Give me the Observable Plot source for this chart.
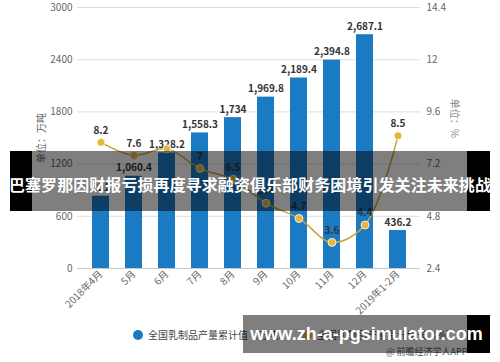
<!DOCTYPE html>
<html><head><meta charset="utf-8">
<script src="https://cdn.jsdelivr.net/npm/d3@7"></script>
<script src="https://cdn.jsdelivr.net/npm/@observablehq/plot@0.6"></script>
<style>
body{margin:0;background:#fff;font-family:"Noto Sans CJK SC","Noto Sans",sans-serif}
#wrap{position:relative;width:500px;height:362px;overflow:hidden;background:#fff}
#wrap svg{position:absolute;left:0;top:0}
.ov{position:absolute}
.band{background:rgba(0,0,0,0.5)}
.blk{background:#000}
.legend{position:absolute;top:327px;left:133px;font-size:10px;color:#444;display:flex;align-items:center;white-space:nowrap}
.legend .sw{display:inline-block;width:10px;height:10px;border-radius:50%;margin-right:5px}
.legend .item{display:flex;align-items:center;margin-right:14px}
</style></head><body><div id="wrap"></div>
<script>
const months = ["2018年4月","5月","6月","7月","8月","9月","10月","11月","12月","2019年1-2月"];
const output = [831, 1060.4, 1328.2, 1558.3, 1734, 1969.8, 2189.4, 2394.8, 2687.1, 436.2];
const growth = [8.2, 7.6, 7.9, 7, 6.5, 5.4, 4.7, 3.6, 4.4, 8.5];
const leftTicks = [0, 600, 1200, 1800, 2400, 3000];
const rightTicks = [2.4, 4.8, 7.2, 9.6, 12, 14.4];
const seriesNames = ["全国乳制品产量累计值（万吨）", "全国乳制品产量累计增长（%）"];
const leftTitle = "单位：万吨";
const rightTitle = "单位：%";
const bannerText = "巴塞罗那因财报亏损再度寻求融资俱乐部财务困境引发关注未来挑战";
const watermarkText = "www.zh-a-pgsimulator.com";
const sourceText = "@ 前瞻经济学人APP";

const leftMax = leftTicks[leftTicks.length - 1];
const rMin = rightTicks[0], rMax = rightTicks[rightTicks.length - 1];
const toLeft = v => (v - rMin) / (rMax - rMin) * leftMax;
const fromLeft = d => Math.round((rMin + d / leftMax * (rMax - rMin)) * 10) / 10;

const data = months.map((m, i) => ({month: m, output: output[i], growth: growth[i], g: toLeft(growth[i])}));
const fmtBar = d3.format(",.1~f");
const barColor = "#1b7ac4", lineColor = "#c9a33c", dotColor = "#e8b53f";

const chart = Plot.plot({
  width: 500, height: 362,
  marginTop: 7, marginBottom: 94, marginLeft: 77, marginRight: 80,
  style: {fontFamily: '"Noto Sans CJK SC","Noto Sans",sans-serif', fontSize: "10px", color: "#666", background: "transparent"},
  x: {type: "band", domain: months, paddingInner: 0.5, paddingOuter: 0.4, label: null},
  y: {domain: [0, leftMax], label: null},
  marks: [
    Plot.gridY(leftTicks, {stroke: "#dedede", strokeOpacity: 1}),
    Plot.ruleY([0], {stroke: "#c8c8c8"}),
    Plot.barY(data, {x: "month", y: "output", fill: barColor}),
    Plot.text(data, {x: "month", y: "output", text: d => fmtBar(d.output), dy: -8, fill: "#333", fontWeight: "bold", fontSize: 10}),
    Plot.line(data, {x: "month", y: "g", stroke: lineColor, strokeWidth: 1.5, curve: "catmull-rom"}),
    Plot.dot(data, {x: "month", y: "g", r: 4, fill: dotColor, stroke: "#fff", strokeWidth: 0.8}),
    Plot.text(data.filter(d => d.month !== "6月"), {x: "month", y: "g", text: d => String(d.growth), dy: -12, fill: "#333", fontWeight: "bold", fontSize: 10}),
    Plot.axisY(leftTicks, {anchor: "left", tickSize: 0, tickPadding: 5, fill: "#666", tickFormat: d => String(d), label: leftTitle, labelAnchor: "center", labelOffset: 40, labelArrow: "none"}),
    Plot.axisY(leftTicks, {anchor: "right", tickSize: 0, tickPadding: 6, fill: "#666", tickFormat: d => String(fromLeft(d)), label: null}),
    Plot.text([rightTitle], {frameAnchor: "right", dx: 34, rotate: 90, fill: "#888", fontSize: 10}),
    Plot.axisX({tickSize: 0, tickRotate: -45, textAnchor: "end", tickPadding: 4, fill: "#666", label: null})
  ]
});
const wrap = document.getElementById("wrap");
wrap.appendChild(chart);

// legend
const leg = document.createElement("div");
leg.className = "legend";
[barColor, dotColor].forEach((c, i) => {
  const it = document.createElement("span"); it.className = "item";
  const sw = document.createElement("span"); sw.className = "sw"; sw.style.background = c;
  it.appendChild(sw); it.appendChild(document.createTextNode(seriesNames[i]));
  leg.appendChild(it);
});
wrap.appendChild(leg);

// source
const src = document.createElement("div");
src.className = "ov";
Object.assign(src.style, {left: "386px", top: "345px", fontSize: "9px", color: "#555"});
src.textContent = sourceText;
wrap.appendChild(src);

function box(cls, l, t, w, h) {
  const d = document.createElement("div");
  d.className = "ov " + cls;
  Object.assign(d.style, {left: l + "px", top: t + "px", width: w + "px", height: h + "px"});
  wrap.appendChild(d);
  return d;
}
// top banner
box("blk", 10, 151, 22, 60);
box("band", 32, 151, 435, 60);
box("blk", 467, 151, 23, 60);
const bt = box("", 0, 151, 500, 60);
Object.assign(bt.style, {color: "#fff", fontWeight: "bold", fontSize: "15.5px", letterSpacing: "0.1px", lineHeight: "66px", textAlign: "center", whiteSpace: "nowrap", fontFamily: '"Noto Sans CJK SC",sans-serif', transform: "scaleX(1.03)"});
bt.textContent = bannerText;

// bottom watermark
box("band", 243, 315, 224, 38);
box("blk", 467, 315, 23, 38);
const wt = box("", 243, 315, 247, 38);
Object.assign(wt.style, {color: "#fff", fontWeight: "bold", fontSize: "18px", lineHeight: "38px", textAlign: "center", whiteSpace: "nowrap", fontFamily: '"Liberation Sans",Arial,sans-serif'});
wt.textContent = watermarkText;
</script></body></html>
